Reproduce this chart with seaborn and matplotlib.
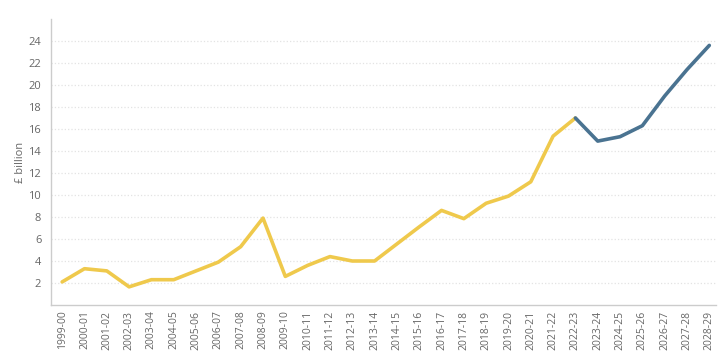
import numpy as np
import pandas as pd
import seaborn as sns
import matplotlib.pyplot as plt
from matplotlib.ticker import FixedLocator

years = ["1999-00", "2000-01", "2001-02", "2002-03", "2003-04", "2004-05",
         "2005-06", "2006-07", "2007-08", "2008-09", "2009-10", "2010-11",
         "2011-12", "2012-13", "2013-14", "2014-15", "2015-16", "2016-17",
         "2017-18", "2018-19", "2019-20", "2020-21", "2021-22", "2022-23",
         "2023-24", "2024-25", "2025-26", "2026-27", "2027-28", "2028-29"]
outturn = [2.1, 3.3, 3.1, 1.65, 2.3, 2.3, 3.1, 3.9, 5.3, 7.9, 2.6, 3.6,
           4.4, 4.0, 4.0, 5.55, 7.1, 8.6, 7.85, 9.25, 9.9, 11.2, 15.35, 17.0]
forecast = [17.0, 14.9, 15.3, 16.3, 19.0, 21.4, 23.6]

yellow = "#efc94c"
blue = "#4a7391"
grey = "#666666"

df_out = pd.DataFrame({"x": np.arange(len(outturn)), "y": outturn})
df_fc = pd.DataFrame({"x": np.arange(len(outturn) - 1, len(years)), "y": forecast})

sns.set_style("white")
plt.rcParams['font.family'] = ['Open Sans', 'DejaVu Sans']

fig = plt.figure(figsize=(7.23, 3.57), dpi=100)
ax = fig.add_axes([51 / 723, 52 / 357, 665 / 723, 286 / 357])

sns.lineplot(data=df_out, x="x", y="y", ax=ax, color=yellow, linewidth=2.6)
sns.lineplot(data=df_fc, x="x", y="y", ax=ax, color=blue, linewidth=2.6)

ax.set_xlim(-0.5, len(years) - 0.7)
ax.set_ylim(0, 26)
ax.set_yticks(range(2, 25, 2))
ax.set_xticks(range(len(years)))
ax.set_xticklabels(years, rotation=90, fontsize=7.5, color=grey)
ax.xaxis.set_minor_locator(FixedLocator(np.arange(-0.5, len(years), 1)))
ax.tick_params(axis="x", which="major", length=0, pad=4)
ax.tick_params(axis="x", which="minor", length=4, color="#cccccc", width=0.8)
ax.tick_params(axis="y", length=5, color="#cccccc", width=0.8, labelsize=8, labelcolor=grey, pad=2)
ax.grid(axis="y", color="#e3e3e3", linestyle=":", linewidth=0.9)
ax.set_axisbelow(True)

for side in ["top", "right"]:
    ax.spines[side].set_visible(False)
for side in ["left", "bottom"]:
    ax.spines[side].set_color("#cccccc")
    ax.spines[side].set_linewidth(1.0)

ax.set_xlabel("")
ax.set_ylabel("£ billion", fontsize=8, color=grey, labelpad=1.5)

fig.savefig("out.png", dpi=100)
